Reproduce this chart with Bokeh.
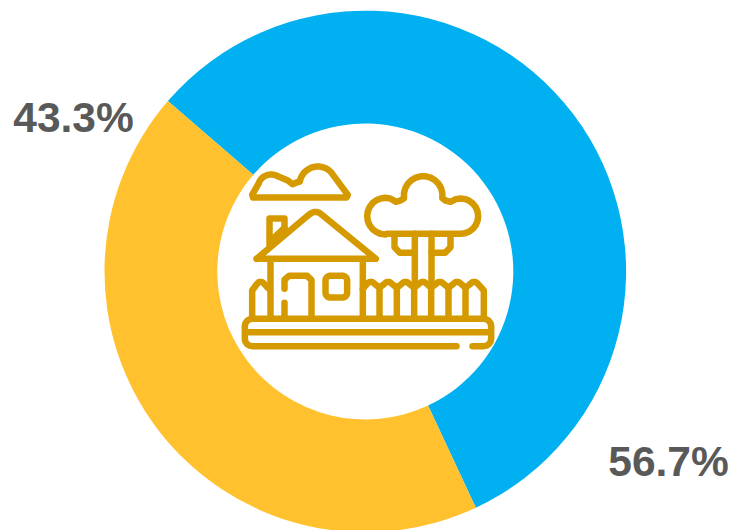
import math
import numpy as np
from bokeh.plotting import figure
from bokeh.models import Range1d
from bokeh.core.properties import value
from bokeh.embed import file_html
from bokeh.resources import INLINE

categories = ["Blue", "Yellow"]
shares = [56.7, 43.3]
colors = ["#00B0F0", "#FFC12E"]
labels = ["56.7%", "43.3%"]

W, H = 732, 530
CX, CY, R_OUT, R_IN = 364.8, 259.0, 260.8, 148.0
START_DEG = 139.2

p = figure(width=W, height=H, output_backend="svg", toolbar_location=None,
           x_range=Range1d(0, W), y_range=Range1d(0, H), min_border=0)
p.axis.visible = False
p.grid.visible = False
p.outline_line_color = None
p.background_fill_color = "white"
p.border_fill_color = "white"

# Ring: clockwise from upper left
a = START_DEG
starts, ends = [], []
for s in shares:
    starts.append(math.radians(a))
    a -= s * 3.6
    ends.append(math.radians(a))
p.annular_wedge(x=[CX] * 2, y=[CY] * 2, inner_radius=R_IN, outer_radius=R_OUT,
                start_angle=starts, end_angle=ends, direction="clock",
                fill_color=colors, line_color=None)

# Percent labels
p.text(x=[668, 73], y=[H - 461, H - 117], text=labels, text_font=value("Liberation Sans"),
       text_font_style="bold", text_font_size="42.5px", text_color="#595959",
       text_align="center", text_baseline="middle")


# Icon, drawn on a crop-based grid (1 unit = 1/3 px, origin at 230,150)
def arc(cx, cy, r, a0, a1, n=14):
    t = np.radians(np.linspace(a0, a1, n))
    return list(zip(cx + r * np.cos(t), cy - r * np.sin(t)))


def rrect(x0, y0, x1, y1, r):
    pts = []
    pts += arc(x1 - r, y0 + r, r, 90, 0, 6)
    pts += arc(x1 - r, y1 - r, r, 0, -90, 6)
    pts += arc(x0 + r, y1 - r, r, -90, -180, 6)
    pts += arc(x0 + r, y0 + r, r, 180, 90, 6)
    pts.append(pts[0])
    return pts


def peak(xc, half=22, base=414, top=394):
    return arc(xc, top + 13, 13, 140, 40, 5)


cloud = [(68, 141), (65, 133), (85, 98)] + arc(122, 112, 40, 155, 60) + [(172, 90), (186, 101), (198, 96)] + \
        arc(262, 103, 55, 170, 45) + [(352, 133), (348, 141), (68, 141)]
tree = [(470, 250), (690, 250)] + arc(690, 197, 53, -90, 105) + [(660, 154), (645, 150)] + \
       arc(578, 135, 58, -8, 188) + [(510, 150), (497, 154)] + arc(465, 197, 55, 75, 270) + [(470, 250)]
roof = [(78, 325), (235, 193)] + arc(255, 208, 24, 130, 50, 6) + [(436, 325), (78, 325)]
chimney = [(117, 283), (117, 204), (162, 204), (162, 232)]
inner = [(130, 262), (162, 232)]
fence = [(397, 415)]
for xc, xv in zip([421, 473, 525, 577, 628, 680, 731], [447, 499, 551, 602, 654, 705, None]):
    fence += peak(xc)
    if xv:
        fence.append((xv, 412))
fence += [(760, 420), (760, 503)]
ground = [(678, 587), (65, 587)] + arc(65, 565, 22, -90, -180, 5) + arc(65, 527, 22, 180, 90, 5) + \
         arc(760, 527, 22, 90, 0, 5) + arc(760, 565, 22, 0, -90, 5) + [(726, 587)]
paths = [
    cloud, tree, roof, chimney, inner,
    [(492, 255), (492, 290), (508, 307), (553, 307)],
    [(660, 255), (660, 290), (644, 307), (603, 307)],
    [(553, 250), (553, 392)], [(603, 250), (603, 392)],
    [(120, 330), (120, 503)], [(397, 330), (397, 503)],
    [(162, 415), (162, 388), (176, 376), (230, 376), (243, 389), (243, 503)],
    [(162, 457), (162, 503)],
    rrect(285, 376, 350, 441, 14),
    [(65, 503), (65, 420), (78, 402)] + peak(90)[1:] + [(112, 412)],
    fence,
    [(447, 412), (447, 503)], [(499, 412), (499, 503)], [(551, 412), (551, 503)],
    [(602, 412), (602, 503)], [(654, 412), (654, 503)], [(705, 412), (705, 503)],
    ground,
    [(48, 545), (777, 545)],
]
xs = [[230 + q[0] / 3 for q in path] for path in paths]
ys = [[H - (150 + q[1] / 3) for q in path] for path in paths]
p.multi_line(xs, ys, line_color="#D49A00", line_width=6.5, line_cap="round", line_join="round")

open("out.html", "w").write(file_html(p, INLINE))
